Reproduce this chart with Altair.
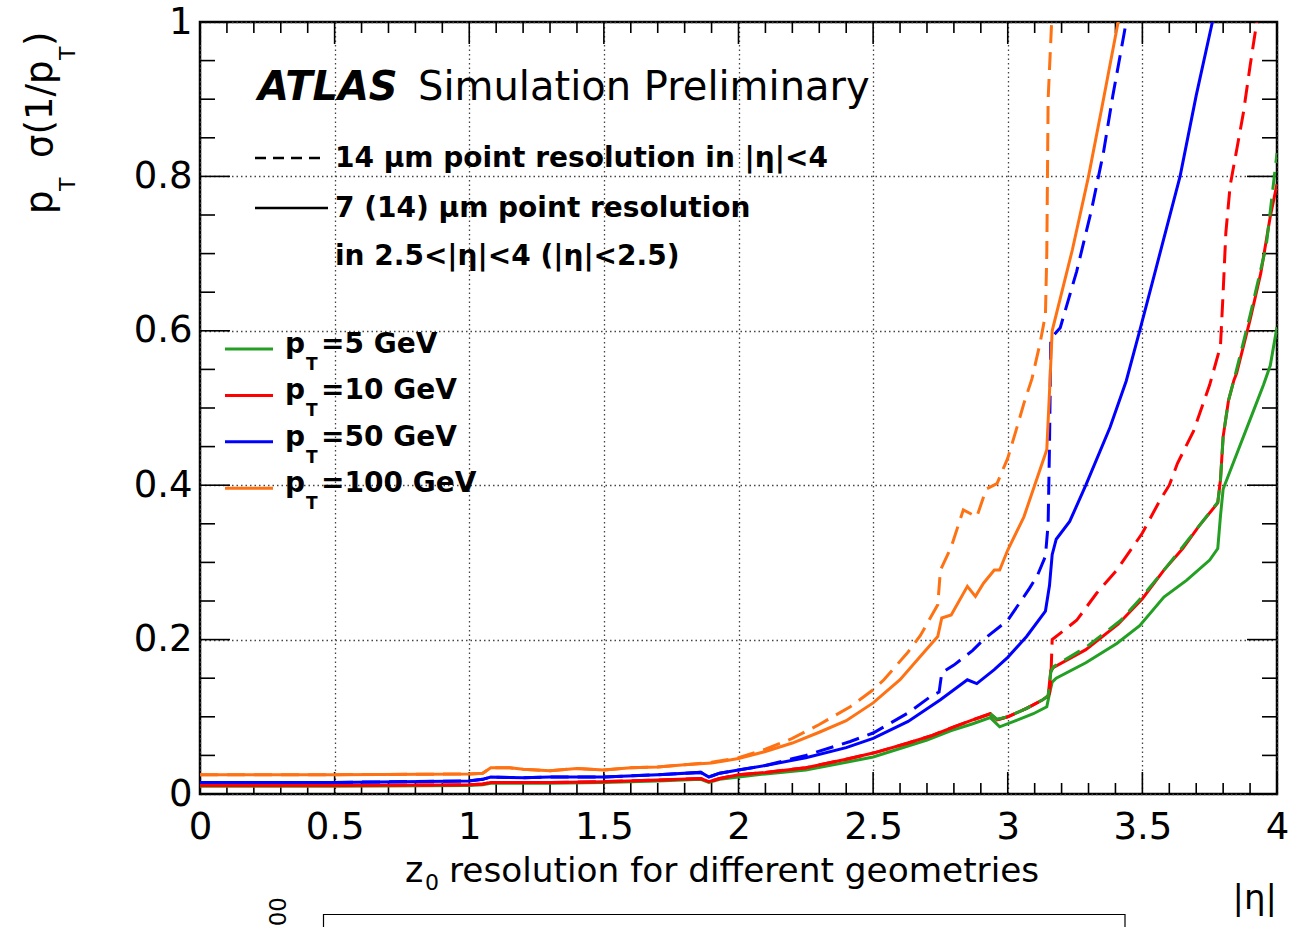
import altair as alt
import pandas as pd

FONT = "DejaVu Sans"

# ---------------- data ----------------
# pT = 5 GeV, 7 (14) um  (solid)
eta_g_solid = [0, 0.5, 1.0, 1.05, 1.08, 1.3, 1.5, 1.7, 1.86, 1.89, 1.93, 2.0, 2.1, 2.25, 2.4, 2.5, 2.6, 2.7,
               2.79, 2.87, 2.935, 2.97, 3.03, 3.095, 3.145, 3.155, 3.165, 3.18, 3.29, 3.405, 3.49, 3.58,
               3.665, 3.75, 3.78, 3.79, 3.80, 3.85, 3.91, 3.95, 3.975, 4.0]
res_g_solid = [0.010, 0.010, 0.011, 0.012, 0.014, 0.014, 0.015, 0.017, 0.019, 0.015, 0.019, 0.022, 0.026,
               0.031, 0.041, 0.048, 0.059, 0.070, 0.082, 0.091, 0.099, 0.087, 0.095, 0.104, 0.113, 0.130,
               0.145, 0.150, 0.170, 0.195, 0.218, 0.255, 0.277, 0.303, 0.318, 0.360, 0.395, 0.440, 0.494,
               0.530, 0.555, 0.605]
# pT = 5 GeV, 14 um (dashed) - visible part
eta_g_dash = [2.935, 2.96, 3.0, 3.07, 3.13, 3.15, 3.16, 3.17, 3.29, 3.42, 3.50, 3.58, 3.64, 3.71, 3.78,
              3.79, 3.80, 3.82, 3.84, 3.85, 3.90, 3.94, 3.96, 3.98, 4.0]
res_g_dash = [0.104, 0.097, 0.100, 0.111, 0.122, 0.127, 0.158, 0.165, 0.190, 0.225, 0.256, 0.290, 0.316,
              0.347, 0.378, 0.405, 0.463, 0.510, 0.536, 0.550, 0.620, 0.680, 0.710, 0.770, 0.830]
# pT = 10 GeV solid
eta_r_solid = [0, 0.5, 1.0, 1.05, 1.08, 1.3, 1.5, 1.7, 1.86, 1.89, 1.93, 2.0, 2.1, 2.25, 2.4, 2.5, 2.63,
               2.72, 2.80, 2.87, 2.935, 2.96, 3.0, 3.07, 3.13, 3.15, 3.16, 3.17, 3.29, 3.41, 3.50, 3.58,
               3.65, 3.71, 3.78, 3.79, 3.80, 3.82, 3.84, 3.85, 3.90, 3.94, 3.975, 4.0]
res_r_solid = [0.011, 0.011, 0.012, 0.013, 0.015, 0.015, 0.016, 0.018, 0.020, 0.016, 0.020, 0.025, 0.028,
               0.034, 0.045, 0.053, 0.066, 0.076, 0.087, 0.096, 0.104, 0.096, 0.100, 0.111, 0.122, 0.127,
               0.160, 0.164, 0.187, 0.220, 0.253, 0.290, 0.318, 0.347, 0.377, 0.407, 0.463, 0.510, 0.536,
               0.545, 0.614, 0.675, 0.748, 0.790]
# pT = 10 GeV dashed
eta_r_dash = [0, 0.5, 1.0, 1.05, 1.08, 1.3, 1.5, 1.7, 1.86, 1.89, 1.93, 2.0, 2.1, 2.25, 2.4, 2.5, 2.63,
              2.72, 2.80, 2.87, 2.935, 2.96, 3.0, 3.07, 3.13, 3.15, 3.155, 3.16, 3.165, 3.256, 3.33, 3.405,
              3.50, 3.566, 3.60, 3.63, 3.69, 3.75, 3.79, 3.80, 3.81, 3.826, 3.85, 3.875, 3.90, 3.925]
res_r_dash = [0.011, 0.011, 0.012, 0.013, 0.015, 0.015, 0.016, 0.018, 0.020, 0.016, 0.020, 0.025, 0.028,
              0.034, 0.045, 0.053, 0.066, 0.076, 0.087, 0.096, 0.104, 0.096, 0.100, 0.111, 0.122, 0.127,
              0.130, 0.148, 0.200, 0.225, 0.260, 0.290, 0.338, 0.381, 0.400, 0.428, 0.470, 0.530, 0.580,
              0.650, 0.727, 0.788, 0.834, 0.882, 0.943, 1.0]
# pT = 50 GeV solid
eta_b_solid = [0, 0.5, 1.0, 1.05, 1.08, 1.2, 1.3, 1.5, 1.7, 1.86, 1.89, 1.93, 2.0, 2.1, 2.25, 2.4, 2.5,
               2.63, 2.75, 2.85, 2.885, 2.95, 3.0, 3.07, 3.14, 3.155, 3.165, 3.18, 3.23, 3.29, 3.38, 3.44,
               3.49, 3.55, 3.64, 3.70, 3.76]
res_b_solid = [0.015, 0.015, 0.017, 0.019, 0.022, 0.021, 0.022, 0.022, 0.025, 0.028, 0.022, 0.027, 0.031,
               0.037, 0.047, 0.060, 0.072, 0.094, 0.122, 0.148, 0.143, 0.161, 0.177, 0.204, 0.237, 0.270,
               0.310, 0.330, 0.353, 0.400, 0.475, 0.535, 0.600, 0.680, 0.800, 0.905, 1.0]
# pT = 50 GeV dashed
eta_b_dash = [0, 0.5, 1.0, 1.05, 1.08, 1.2, 1.3, 1.5, 1.7, 1.86, 1.89, 1.93, 2.0, 2.1, 2.25, 2.415, 2.5,
              2.63, 2.72, 2.745, 2.755, 2.80, 2.87, 2.91, 3.0, 3.08, 3.11, 3.14, 3.15, 3.155, 3.16, 3.195,
              3.256, 3.31, 3.355, 3.39, 3.44]
res_b_dash = [0.015, 0.015, 0.017, 0.019, 0.022, 0.021, 0.022, 0.022, 0.025, 0.028, 0.022, 0.027, 0.031,
              0.037, 0.050, 0.068, 0.079, 0.105, 0.128, 0.132, 0.157, 0.167, 0.186, 0.200, 0.225, 0.266,
              0.283, 0.308, 0.350, 0.450, 0.590, 0.604, 0.677, 0.755, 0.830, 0.904, 1.0]
# pT = 100 GeV solid
eta_o_solid = [0, 0.5, 1.0, 1.05, 1.08, 1.15, 1.2, 1.3, 1.4, 1.5, 1.6, 1.7, 1.8, 1.9, 2.0, 2.1, 2.2, 2.3,
               2.4, 2.5, 2.6, 2.675, 2.74, 2.755, 2.79, 2.85, 2.88, 2.91, 2.95, 2.97, 3.0, 3.06, 3.10, 3.145,
               3.155, 3.165, 3.24, 3.30, 3.35, 3.41]
res_o_solid = [0.025, 0.025, 0.026, 0.027, 0.034, 0.034, 0.032, 0.030, 0.033, 0.031, 0.034, 0.035, 0.038,
               0.040, 0.046, 0.055, 0.066, 0.080, 0.095, 0.118, 0.148, 0.178, 0.204, 0.228, 0.232, 0.269,
               0.256, 0.273, 0.290, 0.290, 0.316, 0.359, 0.400, 0.446, 0.520, 0.600, 0.705, 0.800, 0.890, 1.0]
# pT = 100 GeV dashed
eta_o_dash = [0, 0.5, 1.0, 1.05, 1.08, 1.15, 1.2, 1.3, 1.4, 1.5, 1.6, 1.7, 1.8, 1.9, 2.0, 2.1, 2.2, 2.3,
              2.35, 2.415, 2.5, 2.54, 2.63, 2.675, 2.74, 2.75, 2.79, 2.835, 2.885, 2.92, 2.96, 3.0, 3.03,
              3.06, 3.09, 3.12, 3.14, 3.145, 3.15, 3.163]
res_o_dash = [0.025, 0.025, 0.026, 0.027, 0.034, 0.034, 0.032, 0.030, 0.033, 0.031, 0.034, 0.035, 0.038,
              0.041, 0.047, 0.058, 0.072, 0.090, 0.100, 0.113, 0.135, 0.148, 0.184, 0.205, 0.245, 0.290,
              0.320, 0.368, 0.359, 0.395, 0.402, 0.435, 0.470, 0.506, 0.538, 0.584, 0.621, 0.700, 0.900, 1.0]

legend_pt = ["5", "10", "50", "100"]
legend_colors = ["#23a023", "#ff0000", "#0000ff", "#ff7214"]

x_major = [0, 0.5, 1, 1.5, 2, 2.5, 3, 3.5, 4]
y_major = [0, 0.2, 0.4, 0.6, 0.8, 1.0]
x_minor = [round(0.1 * i, 2) for i in range(1, 40) if i % 5]
y_minor = [round(0.05 * i, 2) for i in range(1, 20) if i % 4]

# ---------------- layout ----------------
W, H = 1077, 772          # plot area
OX, OY = 200, 22          # page offset of plot area
DUMMY = pd.DataFrame({"d": [0]})

XS = alt.Scale(domain=[0, 4], nice=False, zero=False)
YS = alt.Scale(domain=[0, 1], nice=False, zero=False)
common_axis = dict(labelFont=FONT, labelFontSize=37, labelColor="black", ticks=False, domain=False,
                   grid=True, gridDash=[1.5, 3], gridColor="#444444", gridWidth=1.3,
                   labelFlush=False, labelOverlap=False, title=None, format="~g")
XAX = alt.Axis(values=x_major, labelPadding=15, **common_axis)
YAX = alt.Axis(values=y_major, labelPadding=8, **common_axis)


def curve(eta, res, color, dashed):
    df = pd.DataFrame({"eta": eta, "res": res, "i": range(len(eta))})
    kw = dict(color=color, strokeWidth=3, clip=True)
    if dashed:
        kw["strokeDash"] = [18, 9]
    return alt.Chart(df).mark_line(**kw).encode(
        x=alt.X("eta:Q", scale=XS, axis=XAX),
        y=alt.Y("res:Q", scale=YS, axis=YAX),
        order="i:Q",
    )


def text(s, px, py, size, weight="normal", style="normal", angle=0, align="left", baseline="alphabetic"):
    return alt.Chart(DUMMY).mark_text(
        text=s, font=FONT, fontSize=size, fontWeight=weight, fontStyle=style, angle=angle,
        align=align, baseline=baseline, color="black",
    ).encode(x=alt.value(px - OX), y=alt.value(py - OY))


def hline(x1, x2, py, color="black", width=2.5, dash=None):
    kw = dict(color=color, strokeWidth=width)
    if dash:
        kw["strokeDash"] = dash
    return alt.Chart(DUMMY).mark_rule(**kw).encode(
        x=alt.value(x1 - OX), x2=alt.value(x2 - OX), y=alt.value(py - OY))


layers = []

# ticks (inward, ROOT style) on all four sides
def xticks(vals, length):
    d = pd.DataFrame({"t": vals})
    enc = dict(x=alt.X("t:Q", scale=XS, axis=XAX))
    return [
        alt.Chart(d).mark_rule(color="black", strokeWidth=1.6).encode(y=alt.value(H), y2=alt.value(H - length), **enc),
        alt.Chart(d).mark_rule(color="black", strokeWidth=1.6).encode(y=alt.value(0), y2=alt.value(length), **enc),
    ]


def yticks(vals, length):
    d = pd.DataFrame({"t": vals})
    enc = dict(y=alt.Y("t:Q", scale=YS, axis=YAX))
    return [
        alt.Chart(d).mark_rule(color="black", strokeWidth=1.6).encode(x=alt.value(0), x2=alt.value(length), **enc),
        alt.Chart(d).mark_rule(color="black", strokeWidth=1.6).encode(x=alt.value(W), x2=alt.value(W - length), **enc),
    ]


layers += xticks(x_major, 22) + xticks(x_minor, 11) + yticks(y_major, 30) + yticks(y_minor, 15)

# curves (drawing order chosen to match overlaps)
layers += [
    curve(eta_g_solid, res_g_solid, legend_colors[0], False),
    curve(eta_r_solid, res_r_solid, legend_colors[1], False),
    curve(eta_r_dash, res_r_dash, legend_colors[1], True),
    curve(eta_g_dash, res_g_dash, legend_colors[0], True),
    curve(eta_b_solid, res_b_solid, legend_colors[2], False),
    curve(eta_b_dash, res_b_dash, legend_colors[2], True),
    curve(eta_o_solid, res_o_solid, legend_colors[3], False),
    curve(eta_o_dash, res_o_dash, legend_colors[3], True),
]

# ATLAS label
layers += [
    text("ATLAS", 258, 100, 40, weight="bold", style="italic"),
    text("Simulation Preliminary", 418, 100, 40),
]

# geometry legend
layers += [
    hline(255, 326, 158, dash=[11, 7]),
    text("14 \u03bcm point resolution in |\u03b7|<4", 335, 167, 28, weight="bold"),
    hline(255, 328, 208),
    text("7 (14) \u03bcm point resolution", 335, 217, 28, weight="bold"),
    text("in 2.5<|\u03b7|<4 (|\u03b7|<2.5)", 335, 265, 28, weight="bold"),
]

# pT legend
for k, (pt, col) in enumerate(zip(legend_pt, legend_colors)):
    L = 349 + 46.4 * k
    layers += [
        hline(225, 273, L, color=col, width=3),
        text("p", 285, L + 4, 28, weight="bold"),
        text("T", 306, L + 21, 17, weight="bold"),
        text("=" + pt + " GeV", 321, L + 4, 28, weight="bold"),
    ]

# y-axis title  p_T sigma(1/p_T), rotated
layers += [
    text("p", 52, 214, 37, angle=270),
    text("T", 75, 191, 22, angle=270),
    text("\u03c3(1/p", 52, 158, 37, angle=270),
    text("T", 75, 60, 22, angle=270),
    text(")", 52, 46, 37, angle=270),
]

# x-axis title and the caption of the next (cropped) figure
layers += [
    text("|\u03b7|", 1277, 909, 34, align="right"),
    text("z", 405, 882, 35),
    text("0", 425, 890, 22),
    text("resolution for different geometries", 449, 882, 34.3),
    text("00", 286, 897, 23, angle=270, align="right"),
    alt.Chart(DUMMY).mark_rect(filled=False, stroke="black", strokeWidth=1.2).encode(
        x=alt.value(323.5 - OX), x2=alt.value(1125 - OX), y=alt.value(914.5 - OY), y2=alt.value(940 - OY)),
]

chart = alt.layer(*layers).properties(
    width=W, height=H,
    padding={"left": OX, "top": OY, "right": 1306 - OX - W, "bottom": 927 - OY - H},
    autosize=alt.AutoSizeParams(type="none"),
    background="white",
).configure_view(stroke="black", strokeWidth=2.5)

chart.save("out.html", embed_options={"renderer": "svg", "actions": False})
